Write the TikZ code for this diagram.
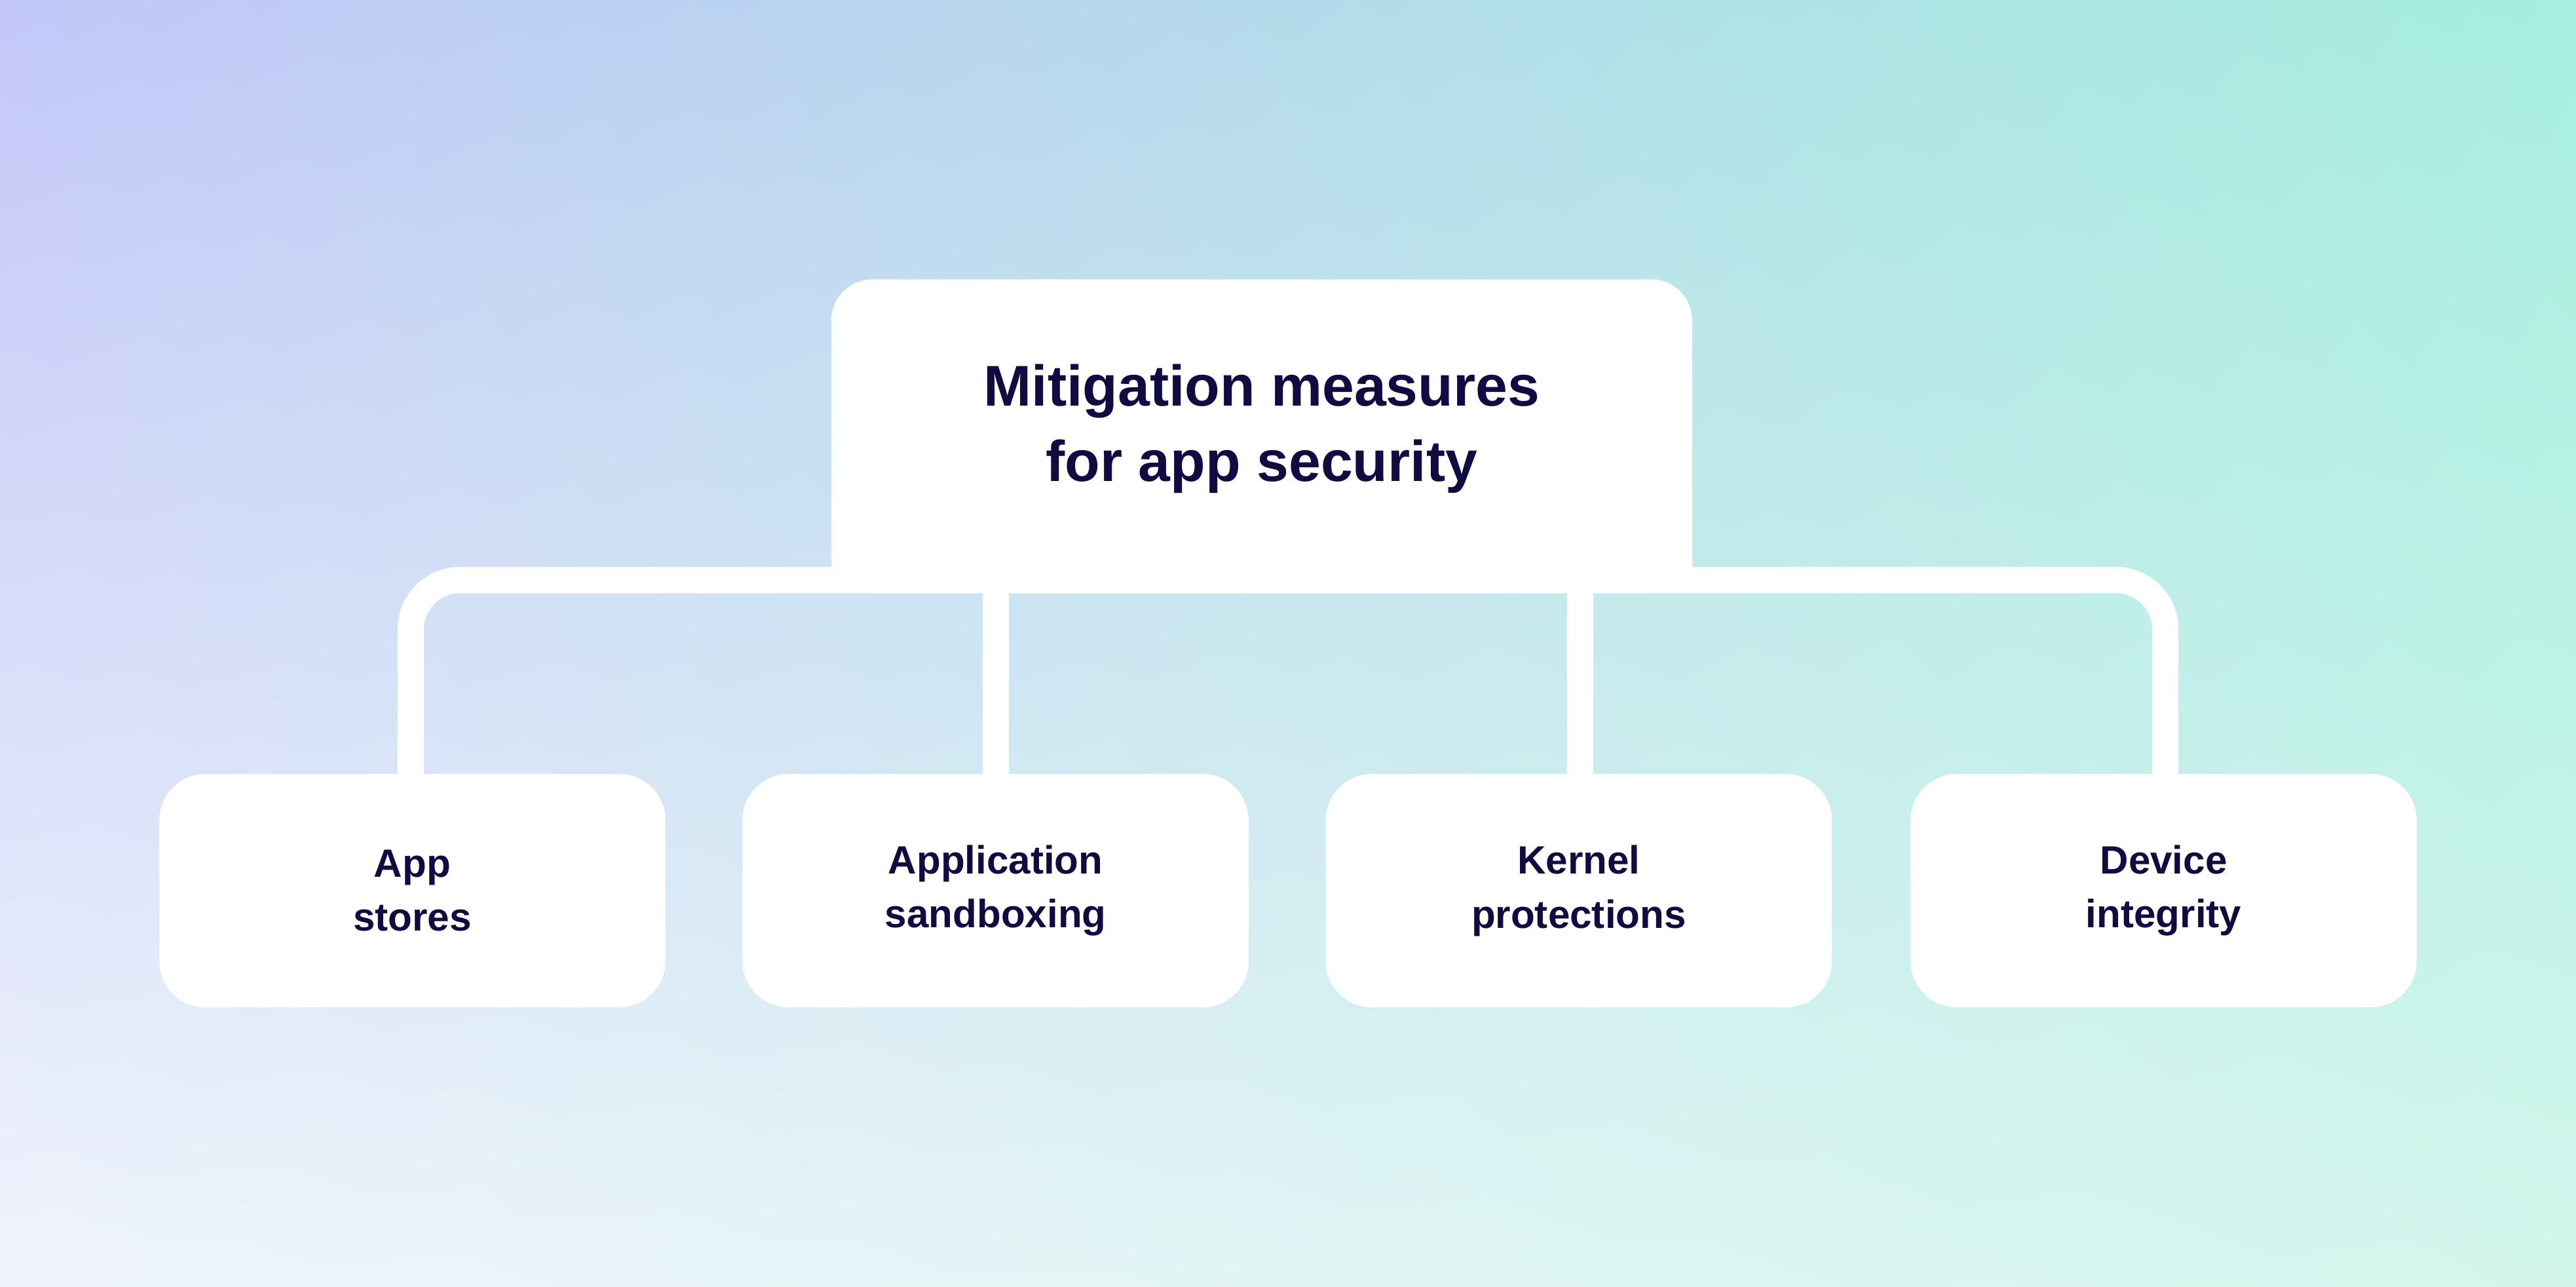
\documentclass[tikz,border=0pt]{standalone}
\usepackage{fontspec}
\setmainfont{Liberation Sans}
\usetikzlibrary{shadings}
\begin{document}
\begin{tikzpicture}[x=1pt,y=-1pt,
  lbl/.style={text=ink,font=\bfseries\fontsize{24}{33}\selectfont,align=center},
  conn/.style={draw=white,line width=16pt}]
\definecolor{ink}{HTML}{100B40}
\definecolor{ul}{RGB}{194,199,248}
\definecolor{ur}{RGB}{166,238,222}
\definecolor{ll}{RGB}{240,244,252}
\definecolor{lr}{RGB}{210,246,236}
\shade[upper left=ul, upper right=ur, lower left=ll, lower right=lr]
 (0,0) rectangle (1568,783);
\useasboundingbox (0,0) rectangle (1568,783);
\coordinate (cl) at (250,474); \coordinate (cr) at (1318,474);
\coordinate (tl) at (250,353); \coordinate (tr) at (1318,353);
\draw[conn,rounded corners=30pt] (cl) -- (tl) -- (tr) -- (cr);
\draw[conn] (606,353) -- (606,474);
\draw[conn] (962,353) -- (962,474);
\fill[white,rounded corners=25pt] (506,170) rectangle (1030,361);
\fill[white] (506,300) rectangle (1030,361);
\node[text=ink,font=\bfseries\fontsize{35}{46}\selectfont,align=center] (top) at (768,261) {Mitigation measures\\for app security};
\foreach \n/\x/\t in {a/251/{App\\stores},b/606/{Application\\sandboxing},c/961/{Kernel\\protections},d/1317/{Device\\integrity}}{
  \fill[white,rounded corners=28pt] (\x-154,471) rectangle (\x+154,613);
  \node[lbl] (\n) at (\x,542) {\t};
}
\end{tikzpicture}
\end{document}
